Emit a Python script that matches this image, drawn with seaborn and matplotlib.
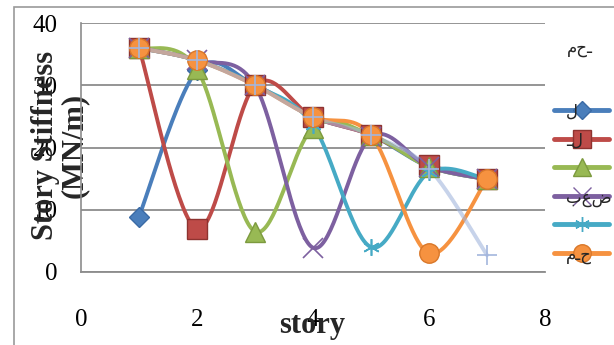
import numpy as np
import pandas as pd
import matplotlib
matplotlib.use("Agg")
import matplotlib.pyplot as plt
import seaborn as sns
from matplotlib.lines import Line2D
from matplotlib.patches import Rectangle

# ---------------- data ----------------
stories = [1, 2, 3, 4, 5, 6, 7]
s1 = [8.9, 32.4, 30.0, 24.9, 22.0, 16.9, 14.9]
s2 = [36.0, 6.9, 30.0, 24.9, 22.0, 17.2, 14.9]
s3 = [36.0, 32.6, 6.5, 23.2, 22.0, 16.9, 14.9]
s4 = [36.0, 34.0, 30.0, 3.9, 21.7, 16.9, 14.9]
s5 = [36.0, 34.0, 30.0, 23.6, 4.0, 16.0, 14.9]
s6 = [36.0, 34.0, 30.0, 24.9, 22.0, 3.0, 14.9]
s7 = [36.0, 34.0, 30.0, 24.9, 22.0, 16.6, 2.7]
series_values = [s1, s2, s3, s4, s5, s6, s7]
series_names = ["s1", "s2", "s3", "s4", "s5", "s6", "s7"]
legend_labels = ["ل", "ـل", "", "بعض", "", "مـح"]
legend_title = "محـ"
x_ticks = [0, 2, 4, 6, 8]
y_ticks = [0, 10, 20, 30, 40]
x_label = "story"
y_label = "Story Stiffness\n(MN/m)"

# ---------------- style ----------------
colors = ["#4A7EBB", "#BE4B48", "#98B954", "#7D60A0", "#46AAC5", "#F69240", "#A3B6DD"]
edges = ["#3A6AA5", "#8E3330", "#7C9A3E", "#5F4780", "#3590A8", "#D9782A", "#A3B6DD"]
markers = ["D", "s", "^", "x", (6, 2, 0), "o", "+"]
msizes = [10, 14, 14, 15, 12, 14, 14]
alphas = [1, 1, 1, 1, 1, 1, 0.6]

sns.set_theme(style="white")
plt.rcParams["font.family"] = ["Liberation Serif", "DejaVu Sans"]

DPI = 100
fig = plt.figure(figsize=(6.14, 3.45), dpi=DPI)
W, H = 614, 345
ax = fig.add_axes([81 / W, 1 - 272 / H, (545 - 81) / W, (272 - 23) / H])


def excel_smooth(x, y, n=40):
    P = np.column_stack([x, y]).astype(float)
    pts = []
    for i in range(len(P) - 1):
        p0 = P[i - 1] if i > 0 else P[i]
        p1 = P[i]
        p2 = P[i + 1]
        p3 = P[i + 2] if i + 2 < len(P) else P[i + 1]
        c1 = p1 + (p2 - p0) / 6.0
        c2 = p2 - (p3 - p1) / 6.0
        t = np.linspace(0, 1, n)[:, None]
        seg = (1 - t) ** 3 * p1 + 3 * (1 - t) ** 2 * t * c1 + 3 * (1 - t) * t ** 2 * c2 + t ** 3 * p2
        pts.append(seg if i == 0 else seg[1:])
    return np.vstack(pts)


# lines first
for i, vals in enumerate(series_values):
    curve = excel_smooth(stories, vals)
    df = pd.DataFrame({"x": curve[:, 0], "y": curve[:, 1]})
    sns.lineplot(data=df, x="x", y="y", sort=False, estimator=None, ax=ax,
                 color=colors[i], lw=2.8, alpha=alphas[i], zorder=3 + i * 0.01)

# markers
for i, vals in enumerate(series_values):
    filled = markers[i] in ("D", "s", "^", "o")
    ax.plot(stories, vals, linestyle="none", marker=markers[i], ms=msizes[i],
            mfc=colors[i] if filled else "none", mec=edges[i] if filled else colors[i],
            mew=1.0 if filled else 1.2, zorder=4 + i * 0.01, clip_on=False)

ax.set_xlim(0, 8)
ax.set_ylim(0, 40)
ax.set_xticks(x_ticks)
ax.set_yticks(y_ticks)
ax.tick_params(axis="both", length=0, labelsize=18, colors="#000000")
ax.tick_params(axis="x", pad=27)
ax.tick_params(axis="y", pad=17)
ax.grid(axis="y", color="#8C8C8C", lw=1.3)
ax.grid(axis="x", visible=False)
for s in ["top", "right"]:
    ax.spines[s].set_visible(False)
ax.spines["left"].set_color("#8C8C8C")
ax.spines["left"].set_linewidth(1.2)
ax.spines["bottom"].set_color("#8C8C8C")
ax.spines["bottom"].set_linewidth(1.3)
ax.set_facecolor("white")

ax.set_xlabel(x_label, fontsize=22, fontweight="bold")
ax.xaxis.set_label_coords((312 - 81) / 464, (272 - 326) / 249)
ax.xaxis.label.set_va("center")
ax.set_ylabel(y_label, fontsize=22, fontweight="bold", linespacing=1.0)
ax.yaxis.set_label_coords((60 - 81) / 464, (272 - 145) / 249)
ax.yaxis.label.set_va("center")
ax.yaxis.label.set_zorder(10)

# legend
handles = []
for i in range(6):
    filled = markers[i] in ("D", "s", "^", "o")
    handles.append(Line2D([], [], color=colors[i], lw=3.5, marker=markers[i], ms=msizes[i] * 0.9,
                          mfc=colors[i] if filled else "none",
                          mec=edges[i] if filled else colors[i], mew=1.0))
leg = fig.legend(handles, legend_labels, loc="upper left",
                 bbox_to_anchor=(554 / W, 1 - 103 / H), frameon=False,
                 borderpad=0, borderaxespad=0, handlelength=3.3, handleheight=1.2,
                 labelspacing=0.62, handletextpad=-2.6, fontsize=12)
fig.text(580 / W, 1 - 48 / H, legend_title, fontsize=12, ha="center", va="center",
         family=["DejaVu Sans"])

# outer chart border
fig.add_artist(Rectangle((14 / W, -0.1), 1.2, 1 - 7 / H + 0.1, transform=fig.transFigure,
                         fill=False, edgecolor="#9A9A9A", lw=1.2))

fig.savefig("out.png", dpi=DPI)
